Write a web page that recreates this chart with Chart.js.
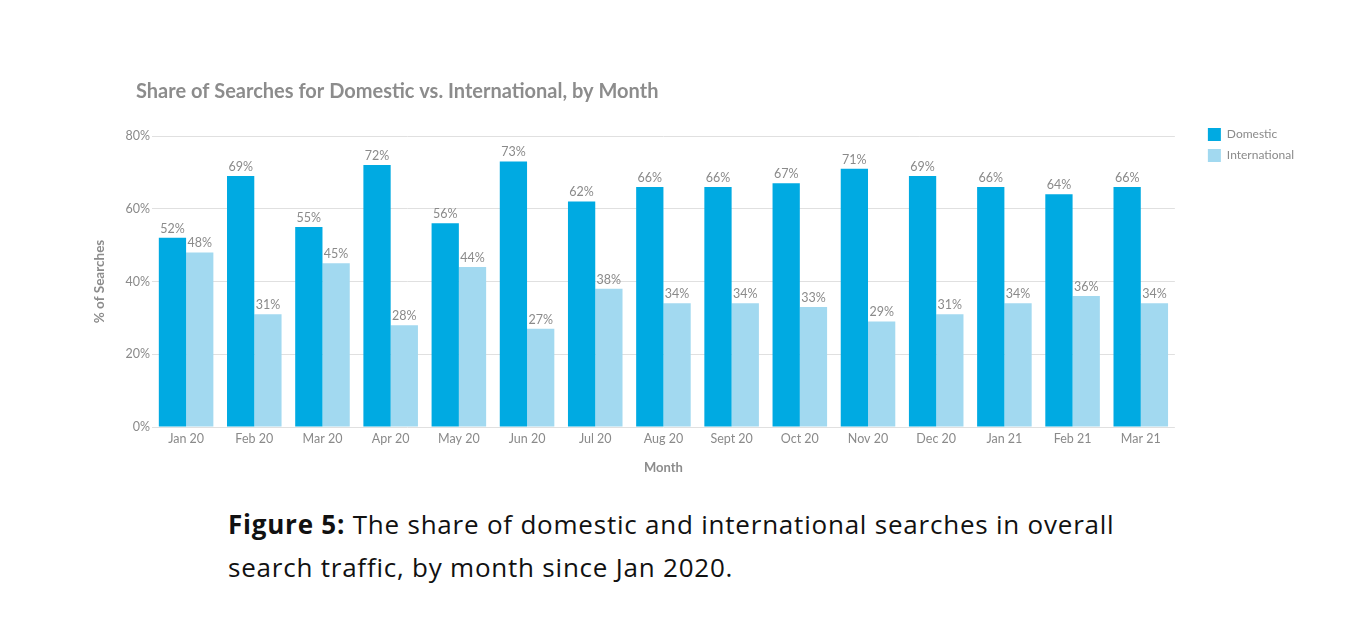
<!DOCTYPE html>
<html>
<head>
<meta charset="utf-8">
<script src="https://cdn.jsdelivr.net/npm/chart.js@4.4.1/dist/chart.umd.min.js"></script>
<style>
  html, body { margin: 0; padding: 0; background: #ffffff; }
  body { width: 1366px; height: 622px; position: relative; overflow: hidden; }
  #wrap { position: absolute; left: 0; top: 0; width: 1366px; height: 480px; }
  #caption {
    position: absolute; left: 228px; top: 503px; width: 1100px; white-space: nowrap;
    font-family: "Open Sans", "Noto Sans", sans-serif; font-size: 26px; line-height: 43px; color: #111;
    letter-spacing: 0.78px;
  }
  #caption b { font-weight: 700; }
</style>
</head>
<body>
<div id="wrap"><canvas id="c"></canvas></div>
<div id="caption"><b>Figure 5:</b> The share of domestic and international searches in overall<br>search traffic, by month since Jan 2020.</div>
<script>
const categories = ["Jan 20","Feb 20","Mar 20","Apr 20","May 20","Jun 20","Jul 20","Aug 20","Sept 20","Oct 20","Nov 20","Dec 20","Jan 21","Feb 21","Mar 21"];
const domestic = [52,69,55,72,56,73,62,66,66,67,71,69,66,64,66];
const international = [48,31,45,28,44,27,38,34,34,33,29,31,34,36,34];
const yTicks = [0,20,40,60,80];

const GRAY = '#8a8a8a';
const FONT = 'Lato, "Noto Sans", sans-serif';

const valueLabels = {
  id: 'valueLabels',
  afterDatasetsDraw(chart) {
    const ctx = chart.ctx;
    ctx.save();
    ctx.font = '12.5px ' + FONT;
    ctx.fillStyle = GRAY;
    ctx.textAlign = 'center';
    ctx.textBaseline = 'bottom';
    chart.data.datasets.forEach((ds, di) => {
      const meta = chart.getDatasetMeta(di);
      meta.data.forEach((bar, i) => {
        ctx.fillText(ds.data[i] + '%', bar.x, bar.y - 3);
      });
    });
    ctx.restore();
  }
};

const titleShift = {
  id: 'titleShift',
  afterLayout(chart) {
    const t = chart.titleBlock;
    if (t) {
      const dx = (chart.chartArea.left - 16) - t.left;
      t.left += dx; t.right += dx;
    }
  }
};

new Chart(document.getElementById('c'), {
  type: 'bar',
  data: {
    labels: categories,
    datasets: [
      { label: 'Domestic', data: domestic, backgroundColor: '#00aae2', borderWidth: 0 },
      { label: 'International', data: international, backgroundColor: '#a2d9f0', borderWidth: 0 }
    ]
  },
  options: {
    responsive: true,
    maintainAspectRatio: false,
    animation: false,
    events: [],
    layout: { padding: { top: 70, left: 88, right: 62, bottom: 0 } },
    datasets: { bar: { categoryPercentage: 0.8, barPercentage: 1.0 } },
    plugins: {
      title: {
        display: true,
        fullSize: false,
        align: 'start',
        text: 'Share of Searches for Domestic vs. International, by Month',
        color: '#8c8c8c',
        font: { family: FONT, size: 20, weight: 'bold' },
        padding: { top: 10, bottom: 32 }
      },
      legend: {
        position: 'right',
        align: 'start',
        title: { display: true, text: '', font: { size: 10 }, padding: { top: 38, bottom: 0 } },
        labels: {
          boxWidth: 13, boxHeight: 13, padding: 8,
          color: GRAY, font: { family: FONT, size: 12 }
        }
      },
      tooltip: { enabled: false }
    },
    scales: {
      x: {
        grid: { display: false, drawTicks: false },
        border: { display: false },
        ticks: { color: GRAY, font: { family: FONT, size: 12.5 }, padding: 4 },
        title: { display: true, text: 'Month', color: '#8c8c8c', font: { family: FONT, size: 13, weight: 'bold' }, padding: { top: 8, bottom: 4 } },
        afterFit(s) { s.height = 53; }
      },
      y: {
        min: 0, max: 80,
        afterBuildTicks(s) { s.ticks = yTicks.map(v => ({ value: v })); },
        grid: { color: '#e0e0e0', drawTicks: false },
        border: { display: false },
        ticks: { color: GRAY, font: { family: FONT, size: 12.5 }, padding: 2, callback: v => v + '%' },
        title: { display: true, text: '% of Searches', color: '#8c8c8c', font: { family: FONT, size: 13.5, weight: 'bold' }, padding: { top: 4, bottom: 4 } },
        afterFit(s) { s.width = 64; }
      },
      gap: {
        type: 'linear', position: 'right', display: true,
        grid: { display: false }, border: { display: false }, ticks: { display: false },
        afterFit(s) { s.width = 25; }
      }
    }
  },
  plugins: [valueLabels, titleShift]
});
</script>
</body>
</html>
